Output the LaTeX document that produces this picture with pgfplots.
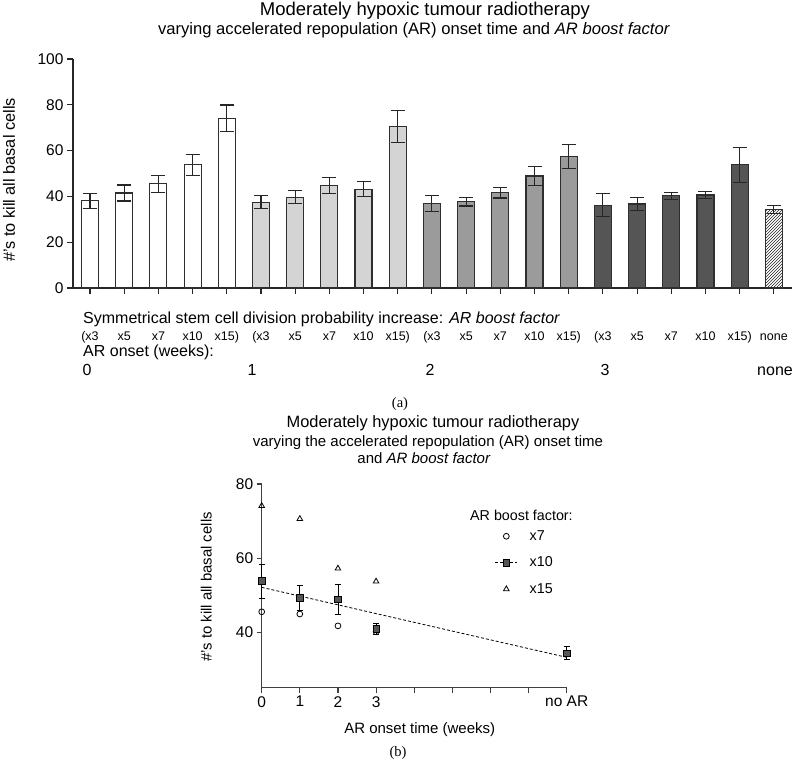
\documentclass[border=0pt]{standalone}
\usepackage{fontspec}
\setmainfont{Liberation Sans}
\newfontfamily\serifa{Liberation Serif}
\usepackage{pgfplots}
\pgfplotsset{compat=1.18}
\usepackage{pgfplotstable}
\usetikzlibrary{patterns}

\definecolor{gA}{HTML}{FFFFFF}
\definecolor{gB}{HTML}{D4D4D4}
\definecolor{gC}{HTML}{9B9B9B}
\definecolor{gD}{HTML}{555555}
\definecolor{edge}{HTML}{2E2E2E}

\pgfplotstableread{
x y e
0 38.1 3.2
1 41.5 3.5
2 45.5 3.8
3 53.8 4.6
4 74.2 5.7
}\grpA
\pgfplotstableread{
x y e
5 37.4 2.8
6 39.7 2.7
7 44.8 3.6
8 43.2 3.4
9 70.7 7.0
}\grpB
\pgfplotstableread{
x y e
10 36.8 3.4
11 37.7 1.9
12 41.6 2.3
13 48.9 4.3
14 57.3 5.3
}\grpC
\pgfplotstableread{
x y e
15 36.1 5.0
16 36.7 2.7
17 40.2 1.7
18 40.6 1.6
19 53.8 7.6
}\grpD
\pgfplotstableread{
x y e
20 34.4 1.8
}\grpE

\pgfplotstableread{
x y
0 45.5
1 44.9
2 41.7
3 40.1
8 34.3
}\bSeven
\pgfplotstableread{
x y e
0 53.8 4.6
1 49.3 3.4
2 48.8 4.1
3 40.9 1.5
8 34.3 1.8
}\bTen
\pgfplotstableread{
x y
0 74.1
1 70.6
2 57.2
3 53.7
8 34.3
}\bFifteen
\pgfplotstableread{
x y
0 52.1
8 33.2
}\bFit

\pgfplotsset{
  barstyle/.style={ybar, bar width=17pt, draw=edge, line width=1.1pt,
    /pgfplots/error bars/y dir=both, /pgfplots/error bars/y explicit,
    /pgfplots/error bars/error bar style={line width=1.1pt, black!85},
    /pgfplots/error bars/error mark options={rotate=90, mark size=7pt, line width=1.1pt, black!85}},
}

\begin{document}
\begin{tikzpicture}
\useasboundingbox (0pt,0pt) rectangle (796pt,-761pt);

% ---------- (a) ----------
\node[anchor=base, font=\fontsize{18.5}{20}\selectfont] at (425pt,-15pt) {Moderately hypoxic tumour radiotherapy};
\node[anchor=base, font=\fontsize{16.6}{18}\selectfont] at (414pt,-34.5pt) {varying accelerated repopulation (AR) onset time and \textit{AR boost factor}};
\node[rotate=90, anchor=base, font=\fontsize{16.3}{18}\selectfont] at (15pt,-180pt) {\#'s to kill all basal cells};

\begin{axis}[
  at={(73pt,-288pt)}, anchor=south west,
  scale only axis, width=719pt, height=229pt,
  xmin=-0.497, xmax=20.53, ymin=0, ymax=100,
  axis x line*=bottom, axis y line*=left,
  axis line style={line width=1.1pt, black!85},
  tick align=outside, major tick length=6pt,
  every tick/.style={line width=1.1pt, black!85},
  xtick={0,...,20},
  xticklabels={{(x3},x5,x7,x10,{x15)},{(x3},x5,x7,x10,{x15)},{(x3},x5,x7,x10,{x15)},{(x3},x5,x7,x10,{x15)},none},
  xticklabel style={anchor=base, yshift=-46.5pt, font=\fontsize{12.5}{14}\selectfont},
  ytick={0,20,...,100},
  yticklabel style={font=\fontsize{15.5}{17}\selectfont},
  /pgf/number format/assume math mode=true,
  clip=false,
]
\addplot[fill=gA, barstyle] table[x=x, y=y, y error=e] {\grpA};
\addplot[fill=gB, barstyle] table[x=x, y=y, y error=e] {\grpB};
\addplot[fill=gC, barstyle] table[x=x, y=y, y error=e] {\grpC};
\addplot[fill=gD, barstyle] table[x=x, y=y, y error=e] {\grpD};
\addplot[pattern=north east lines, pattern color=black!85, barstyle] table[x=x, y=y, y error=e] {\grpE};
\end{axis}

\node[anchor=base west, inner sep=0pt, font=\fontsize{16}{18}\selectfont] at (83pt,-323.3pt) {Symmetrical stem cell division probability increase: \textit{AR boost factor}};
\node[anchor=base west, inner sep=0pt, font=\fontsize{16}{18}\selectfont] at (83pt,-356.7pt) {AR onset (weeks):};
\begin{scope}[every node/.style={anchor=base, inner sep=0pt, font=\fontsize{16}{18}\selectfont}]
\node at (87pt,-375pt) {0};
\node at (252pt,-375pt) {1};
\node at (430pt,-375pt) {2};
\node at (605pt,-375pt) {3};
\node at (775pt,-375pt) {none};
\end{scope}
\node[anchor=base, font=\serifa\fontsize{14.5}{16}\selectfont] at (400pt,-407pt) {(a)};

% ---------- (b) ----------
\node[anchor=base, font=\fontsize{16.4}{18}\selectfont] at (433pt,-427pt) {Moderately hypoxic tumour radiotherapy};
\node[anchor=base, font=\fontsize{15}{17}\selectfont] at (428pt,-446pt) {varying the accelerated repopulation (AR) onset time};
\node[anchor=base, font=\fontsize{15}{17}\selectfont] at (424pt,-463.3pt) {and \textit{AR boost factor}};
\node[rotate=90, anchor=base, font=\fontsize{14.9}{16}\selectfont] at (211.7pt,-587pt) {\#'s to kill all basal cells};
\node[anchor=base west, inner sep=0pt, font=\fontsize{14.3}{16}\selectfont] at (470pt,-520pt) {AR boost factor:};

\begin{axis}[
  at={(261.7pt,-687.7pt)}, anchor=south west,
  scale only axis, width=305pt, height=203.7pt,
  xmin=0, xmax=8, ymin=25, ymax=80,
  axis x line*=bottom, axis y line*=left,
  axis line style={line width=1.1pt, black!75},
  tick align=outside, major tick length=5pt,
  every tick/.style={line width=1.1pt, black!75},
  xtick={0,...,8},
  xticklabels={0,1,2,3,,,,,no AR},
  ytick={40,60,80},
  ticklabel style={font=\fontsize{15.5}{17}\selectfont},
  /pgf/number format/assume math mode=true,
  clip=false,
  legend style={at={(axis description cs:0.764,0.782)}, anchor=north west,
    draw=none, fill=none, inner sep=0pt, row sep=11pt, column sep=10pt,
    font=\fontsize{14.3}{16}\selectfont},
  legend cell align=left,
]
\addlegendimage{legend image code/.code={\path plot[mark=o, mark size=2.9pt, mark options={black, line width=0.8pt}] coordinates {(11pt,0pt)};}}
\addlegendentry{x7}
\addlegendimage{legend image code/.code={\draw[black, line width=0.8pt, dash pattern=on 3pt off 2pt] (0pt,0pt) -- (22pt,0pt); \path plot[mark=square*, mark size=3.2pt, mark options={black, fill=gD, line width=0.7pt, solid}] coordinates {(11pt,0pt)};}}
\addlegendentry{x10}
\addlegendimage{legend image code/.code={\path plot[mark=triangle, mark size=3.2pt, mark options={black, line width=0.8pt}] coordinates {(11pt,0pt)};}}
\addlegendentry{x15}

\addplot[forget plot, black, line width=0.8pt, dash pattern=on 3pt off 2pt] table[x=x, y=y] {\bFit};
\addplot[forget plot, only marks, mark=o, mark size=2.9pt, mark options={black, line width=0.8pt, fill=white}] table[x=x, y=y] {\bSeven};
\addplot[forget plot, only marks, mark=triangle, mark size=3.2pt, mark options={black, line width=0.8pt}] table[x=x, y=y] {\bFifteen};
\addplot[forget plot, only marks, mark=square*, mark size=3.2pt, mark options={black, fill=gD, line width=0.7pt},
  error bars/.cd, y dir=both, y explicit,
  error bar style={line width=0.9pt, black},
  error mark options={rotate=90, mark size=3pt, line width=0.9pt, black}]
  table[x=x, y=y, y error=e] {\bTen};
\end{axis}

\node[anchor=base, font=\fontsize{15}{17}\selectfont] at (419.7pt,-733pt) {AR onset time (weeks)};
\node[anchor=base, font=\serifa\fontsize{14.5}{16}\selectfont] at (398pt,-756.7pt) {(b)};
\end{tikzpicture}
\end{document}
